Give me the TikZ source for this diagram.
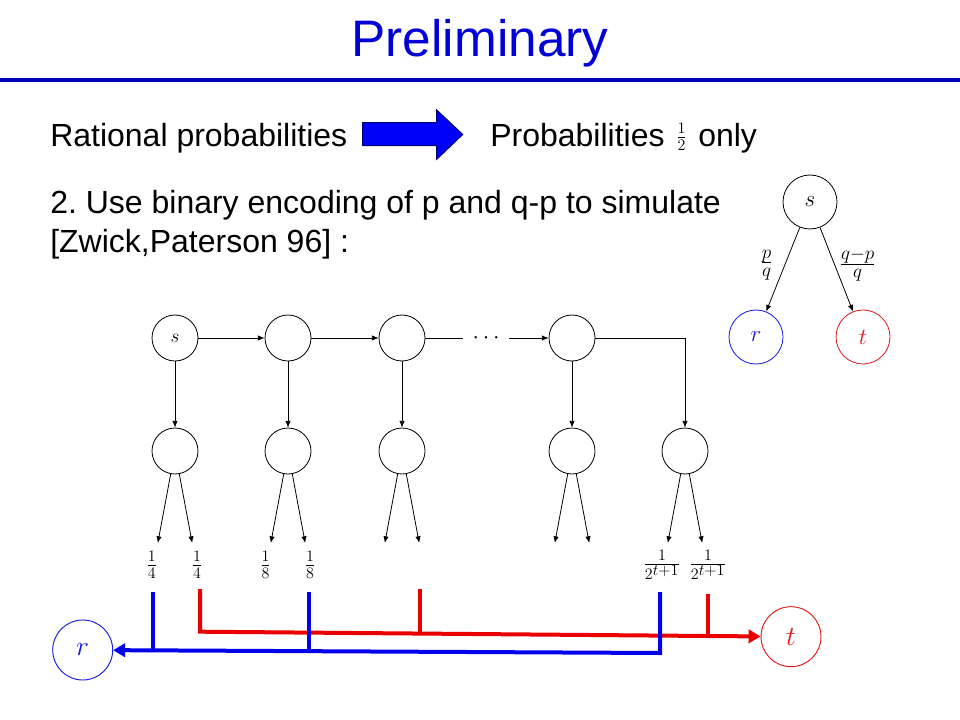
\documentclass[tikz,border=0pt]{standalone}
\usepackage[no-math]{fontspec}
\setmainfont{Liberation Sans}
\usetikzlibrary{arrows.meta,calc}
\definecolor{titleblue}{RGB}{0,0,215}
\definecolor{ruleblue}{RGB}{0,0,185}
\definecolor{arrowfill}{RGB}{0,0,250}
\definecolor{arrowedge}{RGB}{0,0,110}
\definecolor{nodeblue}{RGB}{25,25,225}
\definecolor{nodered}{RGB}{225,25,25}
\definecolor{lineblue}{RGB}{0,0,235}
\definecolor{linered}{RGB}{235,0,0}
\frenchspacing
\begin{document}
\begin{tikzpicture}[x=0.75pt,y=-0.75pt,
  txt/.style={anchor=base west,inner sep=0pt,font=\fontsize{24}{28}\selectfont},
  circ/.style={draw,circle,minimum size=34.5pt,inner sep=0pt,line width=0.6pt,font=\fontsize{15}{18}\selectfont},
  bigcirc/.style={draw,circle,minimum size=40.5pt,inner sep=0pt,line width=0.6pt,font=\fontsize{17}{20}\selectfont},
  endcirc/.style={draw,circle,minimum size=45pt,inner sep=0pt,line width=0.7pt,font=\fontsize{20}{24}\selectfont},
  frac/.style={inner sep=0pt,font=\fontsize{16.5}{19}\selectfont},
  tfrac/.style={inner sep=0pt,font=\fontsize{19}{22}\selectfont},
  arr/.style={line width=0.6pt,-{Latex[length=5pt,width=4pt]}},
  plain/.style={line width=0.6pt},
  thickblue/.style={draw=lineblue,line width=3pt},
  thickred/.style={draw=linered,line width=3pt},
]
\useasboundingbox (0,0) rectangle (960,720);
\fill[white] (0,0) rectangle (960,720);

% title
\node[anchor=base,inner sep=0pt,text=titleblue,font=\fontsize{38.5}{44}\selectfont] (title) at (480,57) {Preliminary};
\draw[ruleblue,line width=3pt] (0,80.5) -- (960,80.5);

% first line
\node[txt] (rat) at (50,147) {Rational probabilities};
\fill[arrowfill,draw=arrowedge,line width=0.75pt] (362.7,122.7) -- (436.7,122.7) -- (436.7,110) -- (462.7,134.5) -- (436.7,159.3) -- (436.7,145.7) -- (362.7,145.7) -- cycle;
\node[txt] (prob) at (490,147) {Probabilities\hspace{8.5pt}\raisebox{3pt}{\fontsize{17}{20}\selectfont$\frac{1}{2}$}\hspace{8.5pt}only};

% second / third lines
\node[txt] (l2) at (50,214) {2. Use binary encoding of p and q-p to simulate};
\node[txt] (l3) at (50,253) {[Zwick,Paterson 96] :};

% top-right tree
\node[bigcirc] (s2) at (810,202) {$s$};
\node[bigcirc,draw=nodeblue,text=nodeblue] (r2) at (756,337) {$r$};
\node[bigcirc,draw=nodered,text=nodered] (t2) at (863,337) {$t$};
\draw[arr] (s2) -- (r2);
\draw[arr] (s2) -- (t2);
\node[tfrac] (pq) at (766.7,265) {$\frac{p}{q}$};
\node[tfrac] (qpq) at (857.7,265) {$\frac{q-p}{q}$};

% chain
\node[circ] (s1) at (175,338) {$s$};
\node[circ] (c2) at (288,338) {};
\node[circ] (c3) at (402,338) {};
\node[circ] (c4) at (572,338) {};
\node[circ] (b1) at (175,451) {};
\node[circ] (b2) at (288,451) {};
\node[circ] (b3) at (402,451) {};
\node[circ] (b4) at (572,451) {};
\node[circ] (b5) at (685,451) {};
\coordinate (d1) at (463,338);
\coordinate (d2) at (509,338);
\node[frac] (dots) at (486,338) {$\cdots$};
\coordinate (corner) at (685,338);

\draw[arr] (s1) -- (c2);
\draw[arr] (c2) -- (c3);
\draw[plain] (c3) -- (d1);
\draw[arr] (d2) -- (c4);
\draw[arr] (c4.east) -- (corner) -- (b5);
\draw[arr] (s1) -- (b1);
\draw[arr] (c2) -- (b2);
\draw[arr] (c3) -- (b3);
\draw[arr] (c4) -- (b4);

\foreach \b/\x in {b1/175,b2/288,b3/402,b4/572,b5/685}{
  \coordinate (\b L) at (\x-17.2,543);
  \coordinate (\b R) at (\x+17.2,543);
  \draw[arr] (\b) -- (\b L);
  \draw[arr] (\b) -- (\b R);
}

\node[frac] (f1) at (151.8,565) {$\frac{1}{4}$};
\node[frac] (f2) at (197,565) {$\frac{1}{4}$};
\node[frac] (f3) at (265.5,565) {$\frac{1}{8}$};
\node[frac] (f4) at (310,565) {$\frac{1}{8}$};
\node[frac] (f5) at (662,565) {$\frac{1}{2^{\scriptstyle t+1}}$};
\node[frac] (f6) at (708,565) {$\frac{1}{2^{\scriptstyle t+1}}$};

% bottom end nodes
\node[endcirc,draw=nodeblue,text=nodeblue] (r3) at (82.7,650) {$r$};
\node[endcirc,draw=nodered,text=nodered] (t3) at (791,636.7) {$t$};

% red collector
\coordinate (ra) at (200,589);
\coordinate (rb) at (200,631.7);
\coordinate (rc) at (420,589);
\coordinate (rd) at (420,633.8);
\coordinate (re) at (708,594);
\coordinate (rf) at (708,636.5);
\draw[thickred] (rc) -- (rd);
\draw[thickred] (re) -- (rf);
\draw[thickred,-{Triangle[length=9pt,width=10pt]}] (ra) -- (rb) -- (t3);

% blue collector
\coordinate (ba) at (153,592);
\coordinate (bb) at (153,650.9);
\coordinate (bc) at (309,592);
\coordinate (bd) at (309,651.5);
\coordinate (be) at (660,592);
\coordinate (bf) at (660,653);
\draw[thickblue] (ba) -- (bb);
\draw[thickblue] (bc) -- (bd);
\draw[thickblue,-{Triangle[length=9pt,width=10pt]}] (be) -- (bf) -- (r3);
\end{tikzpicture}
\end{document}
